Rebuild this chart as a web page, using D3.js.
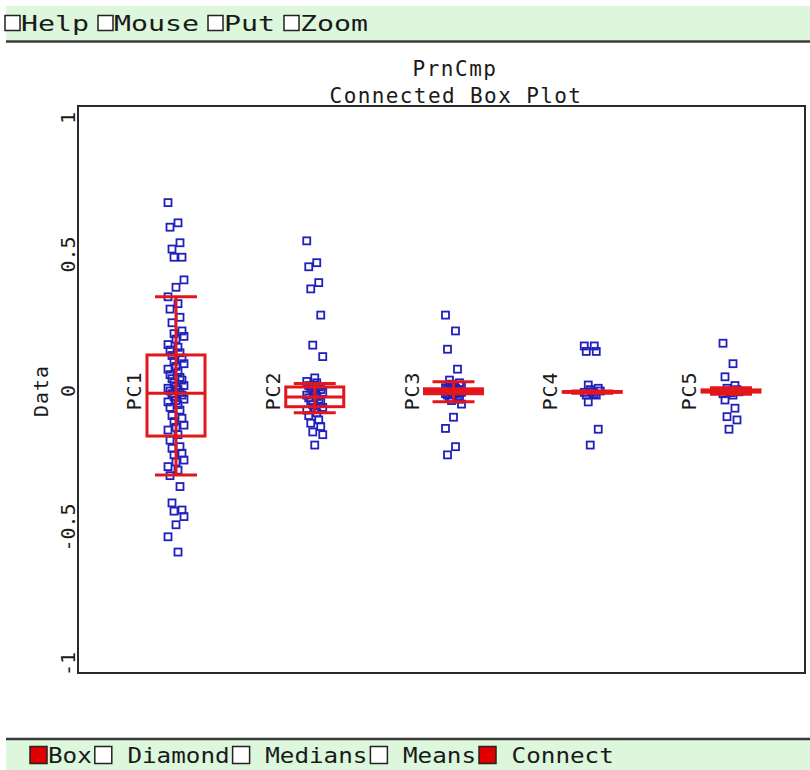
<!DOCTYPE html>
<html>
<head>
<meta charset="utf-8">
<script src="https://cdn.jsdelivr.net/npm/d3@7/dist/d3.min.js"></script>
<style>
  body { margin: 0; background: #fff; }
  svg { display: block; }
  text { font-family: "DejaVu Sans Mono", monospace; fill: #1a1a1a; }
</style>
</head>
<body>
<div id="chart"></div>
<script>
// categories and component scores
var categories = ["PC1", "PC2", "PC3", "PC4", "PC5"];

var pc1 = [0.69, 0.616, 0.60, 0.543, 0.52, 0.49, 0.49, 0.407, 0.38,
  0.345, 0.32, 0.30, 0.27, 0.25, 0.22, 0.21, 0.20, 0.19, 0.17, 0.16, 0.15, 0.14,
  0.13, 0.12, 0.11, 0.10, 0.09, 0.08, 0.07, 0.06, 0.05, 0.045, 0.04, 0.03, 0.02,
  0.015, 0.01, 0.005, 0.0, -0.005, -0.01, -0.015, -0.02, -0.03, -0.035, -0.04,
  -0.05, -0.06, -0.07, -0.09, -0.10, -0.112, -0.125, -0.133, -0.143, -0.16, -0.18,
  -0.204, -0.21, -0.228, -0.234, -0.253, -0.26, -0.277, -0.29, -0.31, -0.35,
  -0.41, -0.436, -0.44, -0.46, -0.49, -0.534, -0.59];
var pc2 = [0.55, 0.47, 0.455, 0.397, 0.374, 0.278, 0.168, 0.126, 0.048, 0.035,
  0.03, 0.02, 0.015, 0.01, 0.005, 0.0, -0.005, -0.01, -0.015, -0.02, -0.025, -0.03,
  -0.035, -0.04, -0.05, -0.06, -0.065, -0.07, -0.08, -0.09, -0.106, -0.118, -0.13,
  -0.15, -0.16, -0.198];
var pc3 = [0.278, 0.22, 0.153, 0.08, 0.04, 0.03, 0.025, 0.02, 0.015, 0.012, 0.01,
  0.008, 0.005, 0.003, 0.0, -0.002, -0.005, -0.008, -0.01, -0.012, -0.015, -0.02,
  -0.025, -0.03, -0.035, -0.048, -0.096, -0.137, -0.204, -0.234];
var pc4 = [0.165, 0.165, 0.145, 0.145, 0.022, 0.01, 0.005, 0.0, -0.003, -0.005,
  -0.01, -0.015, -0.015, -0.04, -0.14, -0.198];
var pc5 = [0.175, 0.10, 0.052, 0.02, 0.01, 0.005, 0.0, -0.003, -0.006, -0.01,
  -0.015, -0.033, -0.063, -0.094, -0.106, -0.14];
var scores = [pc1, pc2, pc3, pc4, pc5];

// box statistics per component
var whiskerHi = [0.345, 0.0275, 0.034, 0.0, 0.012];
var upperQ    = [0.132, 0.0147, 0.008, -0.002, 0.004];
var medians   = [-0.008, -0.022, -0.002, -0.003, 0.0];
var lowerQ    = [-0.165, -0.0575, -0.01, -0.005, -0.004];
var whiskerLo = [-0.308, -0.08, -0.039, -0.008, -0.012];

var yTicks = [1, 0.5, 0, -0.5, -1];
var yTickLabels = ["1", "0.5", "0", "-0.5", "-1"];

var topLabels = ["Help", "Mouse", "Put", "Zoom"];
var bottomLabels = ["Box", " Diamond", " Medians", " Means", " Connect"];
var bottomChecked = [true, false, false, false, true];

var width = 810,
    height = 770;

var boxColor = "#e3161b",
    pointColor = "#2020bb",
    barColor = "#dcf7dc";

var svg = d3.select("#chart")
  .append("svg")
  .attr("width", width)
  .attr("height", height);

var x = d3.scalePoint().domain(categories).range([176, 731]);
var y = d3.scaleLinear().domain([-1, 1]).range([664, 118]);

// menu bars top and bottom
function drawBar(yTop, h, lineY, labels, checked, startX, cbSize, adv, gapAfter, fs) {
  svg.append("rect")
    .attr("x", 6).attr("y", yTop)
    .attr("width", width - 6).attr("height", h)
    .attr("fill", barColor);
  svg.append("line")
    .attr("x1", 6).attr("x2", width)
    .attr("y1", lineY).attr("y2", lineY)
    .attr("stroke", "#3a3a3a").attr("stroke-width", 2.5);

  var cx = startX;
  var mid = yTop + h / 2;
  labels.forEach(function(lbl, i) {
    svg.append("rect")
      .attr("x", cx).attr("y", mid - cbSize / 2)
      .attr("width", cbSize).attr("height", cbSize)
      .attr("fill", checked[i] ? "#e00000" : "#fff")
      .attr("stroke", "#222").attr("stroke-width", 1.5);
    var tx = cx + cbSize + 1;
    var len = lbl.length * adv;
    svg.append("text")
      .attr("x", tx).attr("y", mid + 8)
      .attr("textLength", len)
      .attr("lengthAdjust", "spacingAndGlyphs")
      .style("font-size", fs + "px")
      .style("white-space", "pre")
      .text(lbl);
    cx = tx + len + gapAfter;
  });
}

drawBar(6, 34, 41.5, topLabels, [false, false, false, false], 5, 15, 17, 9, 22);
drawBar(740, 30, 739, bottomLabels, bottomChecked, 30, 17, 14.6, 3, 21);

// title
svg.append("text")
  .attr("x", 455).attr("y", 76)
  .attr("text-anchor", "middle")
  .style("font-size", "21px")
  .style("letter-spacing", "1.5px")
  .text("PrnCmp");
svg.append("text")
  .attr("x", 456).attr("y", 103)
  .attr("text-anchor", "middle")
  .style("font-size", "21px")
  .style("letter-spacing", "1.4px")
  .text("Connected Box Plot");

// plot frame
svg.append("rect")
  .attr("x", 78).attr("y", 106)
  .attr("width", 727).attr("height", 567)
  .attr("fill", "none")
  .attr("stroke", "#2a2a2a").attr("stroke-width", 2);

// y tick labels (rotated)
svg.selectAll(".ytick")
  .data(yTicks)
  .enter().append("text")
  .attr("class", "ytick")
  .attr("transform", function(d) { return "translate(75," + y(d) + ") rotate(-90)"; })
  .attr("text-anchor", "middle")
  .style("font-size", "20px")
  .text(function(d, i) { return yTickLabels[i]; });

svg.append("text")
  .attr("transform", "translate(48," + y(0) + ") rotate(-90)")
  .attr("text-anchor", "middle")
  .style("font-size", "20px")
  .style("letter-spacing", "1px")
  .text("Data");

// category labels next to each box
svg.selectAll(".catlbl")
  .data(categories)
  .enter().append("text")
  .attr("class", "catlbl")
  .attr("transform", function(d) { return "translate(" + (x(d) - 35) + "," + y(0) + ") rotate(-90)"; })
  .attr("text-anchor", "middle")
  .style("font-size", "20px")
  .style("letter-spacing", "1px")
  .text(function(d) { return d; });

// points, spread a little sideways
var pts = [];
scores.forEach(function(vals, i) {
  vals.forEach(function(v, j) {
    pts.push({cat: categories[i], value: v, k: j});
  });
});

svg.append("g")
  .selectAll("rect")
  .data(pts)
  .enter().append("rect")
  .attr("x", function(d) { return x(d.cat) - 3.5 + ((d.k * 5) % 9 - 4) * 2; })
  .attr("y", function(d) { return y(d.value) - 3.5; })
  .attr("width", 7).attr("height", 7)
  .attr("fill", "none")
  .attr("stroke", pointColor)
  .attr("stroke-width", 1.8);

// boxes
var boxW = 58, capW = 42;
var boxes = svg.append("g")
  .selectAll("g")
  .data(categories)
  .enter().append("g")
  .attr("stroke", boxColor)
  .attr("stroke-width", 3)
  .attr("fill", "none");

boxes.append("line")
  .attr("x1", function(d) { return x(d); }).attr("x2", function(d) { return x(d); })
  .attr("y1", function(d, i) { return y(whiskerHi[i]); })
  .attr("y2", function(d, i) { return y(whiskerLo[i]); });
boxes.append("line")
  .attr("x1", function(d) { return x(d) - capW / 2; }).attr("x2", function(d) { return x(d) + capW / 2; })
  .attr("y1", function(d, i) { return y(whiskerHi[i]); })
  .attr("y2", function(d, i) { return y(whiskerHi[i]); });
boxes.append("line")
  .attr("x1", function(d) { return x(d) - capW / 2; }).attr("x2", function(d) { return x(d) + capW / 2; })
  .attr("y1", function(d, i) { return y(whiskerLo[i]); })
  .attr("y2", function(d, i) { return y(whiskerLo[i]); });
boxes.append("rect")
  .attr("x", function(d) { return x(d) - boxW / 2; })
  .attr("y", function(d, i) { return y(upperQ[i]); })
  .attr("width", boxW)
  .attr("height", function(d, i) { return y(lowerQ[i]) - y(upperQ[i]); });
boxes.append("line")
  .attr("x1", function(d) { return x(d) - boxW / 2; }).attr("x2", function(d) { return x(d) + boxW / 2; })
  .attr("y1", function(d, i) { return y(medians[i]); })
  .attr("y2", function(d, i) { return y(medians[i]); });
</script>
</body>
</html>
